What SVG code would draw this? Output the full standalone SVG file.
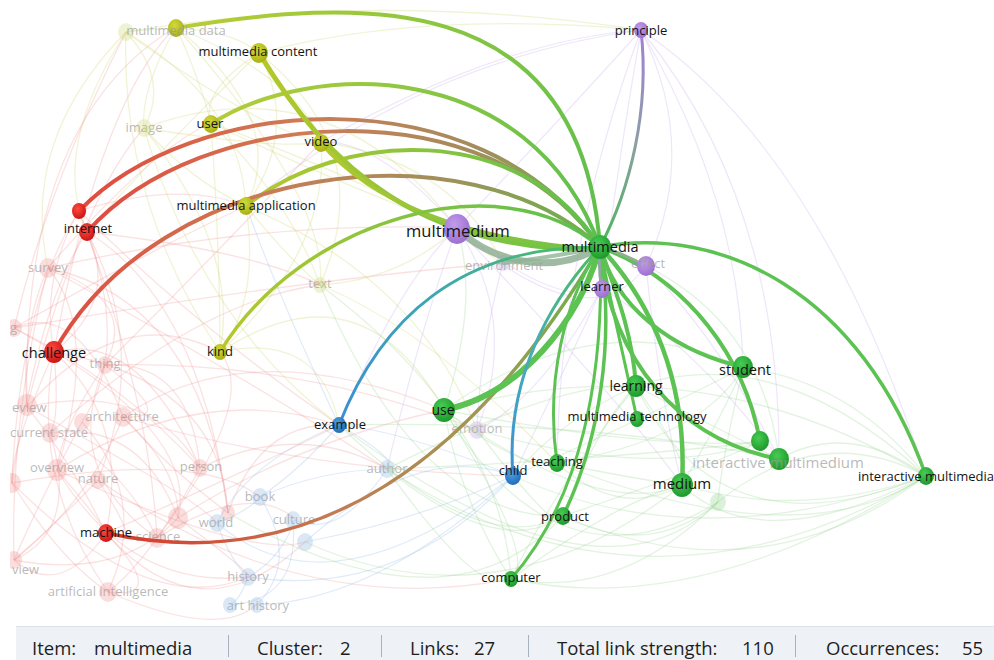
<svg xmlns="http://www.w3.org/2000/svg" width="994" height="660" viewBox="0 0 994 660">
<defs>
<style>
.lbl{font-family:"Open Sans","Noto Sans","DejaVu Sans",sans-serif;font-size:13px;fill:#141414;text-anchor:middle}
.fl{font-family:"Open Sans","Noto Sans","DejaVu Sans",sans-serif;font-size:13px;fill:#9a9a9a;fill-opacity:.7;text-anchor:middle}
.fls{font-family:"Open Sans","Noto Sans","DejaVu Sans",sans-serif;font-size:13px;fill:#9a9a9a;fill-opacity:.7}
.fr{fill:none;stroke:#ee8a8a;stroke-opacity:.25;stroke-width:1.3}
.fy{fill:none;stroke:#d2da80;stroke-opacity:.32;stroke-width:1.3}
.fp{fill:none;stroke:#cdb6ee;stroke-opacity:.35;stroke-width:1.2}
.fg{fill:none;stroke:#9fd898;stroke-opacity:.3;stroke-width:1.3}
.fb{fill:none;stroke:#9fc2ea;stroke-opacity:.32;stroke-width:1.2}
.e{fill:none;stroke-linecap:round}
.eg{stroke:#5cc252}
.nr{fill:#f4b4b4;fill-opacity:.45}
.ny{fill:#e6eab8;fill-opacity:.6}
.nb{fill:#bcd5ee;fill-opacity:.55}
.ng{fill:#c4e8c0;fill-opacity:.6}
.np{fill:#dccaf2;fill-opacity:.6}
.sb{font-family:"Open Sans","Noto Sans","DejaVu Sans",sans-serif;font-size:18.5px;fill:#1e1e1e}
.sep{stroke:#a9b2bc;stroke-width:1}
</style>
<radialGradient id="rg-green" cx=".4" cy=".35" r=".7"><stop offset="0" stop-color="#48cc54"/><stop offset="1" stop-color="#1b9629"/></radialGradient>
<radialGradient id="rg-yellow" cx=".4" cy=".35" r=".7"><stop offset="0" stop-color="#d3da3a"/><stop offset="1" stop-color="#a6ae12"/></radialGradient>
<radialGradient id="rg-red" cx=".4" cy=".35" r=".7"><stop offset="0" stop-color="#ff4a40"/><stop offset="1" stop-color="#c81212"/></radialGradient>
<radialGradient id="rg-purple" cx=".4" cy=".35" r=".7"><stop offset="0" stop-color="#c29cea"/><stop offset="1" stop-color="#9a6cd0"/></radialGradient>
<radialGradient id="rg-blue" cx=".4" cy=".35" r=".7"><stop offset="0" stop-color="#4ea0e4"/><stop offset="1" stop-color="#1c6ab6"/></radialGradient>
<linearGradient id="gE1" gradientUnits="userSpaceOnUse" x1="176" y1="28" x2="600" y2="247"><stop offset="0" stop-color="#b8cc34"/><stop offset="1" stop-color="#5cbf4e"/></linearGradient>
<linearGradient id="gE2" gradientUnits="userSpaceOnUse" x1="259" y1="53" x2="600" y2="250"><stop offset="0" stop-color="#b6c82a"/><stop offset="1" stop-color="#6ac24a"/></linearGradient>
<linearGradient id="gE3" gradientUnits="userSpaceOnUse" x1="321" y1="143" x2="600" y2="250"><stop offset="0" stop-color="#b4c82c"/><stop offset="1" stop-color="#6cc24a"/></linearGradient>
<linearGradient id="gE4" gradientUnits="userSpaceOnUse" x1="211" y1="124" x2="600" y2="247"><stop offset="0" stop-color="#b4cc38"/><stop offset="1" stop-color="#5cc04e"/></linearGradient>
<linearGradient id="gE5" gradientUnits="userSpaceOnUse" x1="79" y1="211" x2="600" y2="247"><stop offset="0" stop-color="#e04a3e"/><stop offset=".4" stop-color="#cf7a55"/><stop offset=".75" stop-color="#a48c5e"/><stop offset="1" stop-color="#70b04e"/></linearGradient>
<linearGradient id="gE6" gradientUnits="userSpaceOnUse" x1="87" y1="232" x2="600" y2="247"><stop offset="0" stop-color="#e04a3e"/><stop offset=".4" stop-color="#cf7a55"/><stop offset=".75" stop-color="#a48c5e"/><stop offset="1" stop-color="#70b04e"/></linearGradient>
<linearGradient id="gE7" gradientUnits="userSpaceOnUse" x1="54" y1="352" x2="600" y2="247"><stop offset="0" stop-color="#e04a3e"/><stop offset=".4" stop-color="#cc7a56"/><stop offset=".75" stop-color="#a0905a"/><stop offset="1" stop-color="#6cb24e"/></linearGradient>
<linearGradient id="gE8" gradientUnits="userSpaceOnUse" x1="246" y1="206" x2="600" y2="247"><stop offset="0" stop-color="#b4c830"/><stop offset="1" stop-color="#5cbf4e"/></linearGradient>
<linearGradient id="gE9" gradientUnits="userSpaceOnUse" x1="220" y1="352" x2="600" y2="247"><stop offset="0" stop-color="#b6c82c"/><stop offset="1" stop-color="#5cbf4e"/></linearGradient>
<linearGradient id="gE10" gradientUnits="userSpaceOnUse" x1="339" y1="425" x2="600" y2="247"><stop offset="0" stop-color="#3a8ed6"/><stop offset=".5" stop-color="#3ea8b0"/><stop offset="1" stop-color="#4cbe5c"/></linearGradient>
<linearGradient id="gE12" gradientUnits="userSpaceOnUse" x1="106" y1="533" x2="600" y2="247"><stop offset="0" stop-color="#d8382a"/><stop offset=".35" stop-color="#c47a52"/><stop offset=".7" stop-color="#9c9a52"/><stop offset="1" stop-color="#6cb24e"/></linearGradient>
<linearGradient id="gE13" gradientUnits="userSpaceOnUse" x1="513" y1="476" x2="600" y2="247"><stop offset="0" stop-color="#3a90d6"/><stop offset=".5" stop-color="#48acb8"/><stop offset="1" stop-color="#4cbe5c"/></linearGradient>
<linearGradient id="gE24" gradientUnits="userSpaceOnUse" x1="641" y1="30" x2="600" y2="247"><stop offset="0" stop-color="#a27ed8"/><stop offset=".5" stop-color="#8c9ea6"/><stop offset="1" stop-color="#4cb85a"/></linearGradient>
<clipPath id="area"><rect x="10" y="0" width="984" height="624"/></clipPath>
</defs>
<rect x="0" y="0" width="994" height="660" fill="#ffffff"/>
<g clip-path="url(#area)">
<g id="faded-nodes">
<g id="node-survey"><ellipse class="nr" cx="48" cy="268" rx="9" ry="10"/><text class="fl" x="48" y="272">survey</text></g>
<g id="node-g"><ellipse class="nr" cx="14" cy="328" rx="8" ry="9"/><text class="fls" x="10" y="332">g</text></g>
<g id="node-thing"><ellipse class="nr" cx="105" cy="365" rx="8" ry="9"/><text class="fl" x="105" y="368">thing</text></g>
<g id="node-review"><ellipse class="nr" cx="27" cy="405" rx="10" ry="11"/><text class="fls" x="12" y="412">eview</text></g>
<g id="node-architecture"><ellipse class="nr" cx="82" cy="422" rx="8" ry="9"/><ellipse class="nr" cx="123" cy="417" rx="9" ry="10"/><text class="fl" x="122" y="421">architecture</text></g>
<g id="node-current-state"><ellipse class="nr" cx="50" cy="433" rx="9" ry="10"/><text class="fl" x="49" y="437">current state</text></g>
<g id="node-overview"><ellipse class="nr" cx="57" cy="470" rx="10" ry="11"/><ellipse class="nr" cx="12" cy="483" rx="9" ry="10"/><text class="fl" x="57" y="472">overview</text></g>
<g id="node-nature"><ellipse class="nr" cx="98" cy="480" rx="8" ry="9"/><text class="fl" x="98" y="483">nature</text></g>
<g id="node-person"><ellipse class="nr" cx="200" cy="468" rx="8" ry="9"/><text class="fl" x="201" y="471">person</text></g>
<g id="node-science"><ellipse class="nr" cx="178" cy="518" rx="10" ry="11"/><ellipse class="nr" cx="228" cy="513" rx="7" ry="8"/><ellipse class="nr" cx="157" cy="538" rx="9" ry="10"/><text class="fl" x="158" y="541">science</text></g>
<g id="node-view"><ellipse class="nr" cx="14" cy="560" rx="8" ry="9"/><text class="fls" x="12" y="574">view</text></g>
<g id="node-artificial-intelligence"><ellipse class="nr" cx="108" cy="592" rx="9" ry="10"/><text class="fl" x="108" y="596">artificial intelligence</text></g>
<g id="node-multimedia-data-faded"><ellipse class="ny" cx="126" cy="32" rx="8" ry="9"/></g>
<g id="node-image"><ellipse class="ny" cx="144" cy="128" rx="8" ry="9"/><text class="fl" x="144" y="132">image</text></g>
<g id="node-text"><ellipse class="ny" cx="320" cy="285" rx="7" ry="8"/><text class="fl" x="320" y="288">text</text></g>
<g id="node-emotion"><ellipse class="np" cx="477" cy="430" rx="8" ry="9"/><text class="fl" x="477" y="433">emotion</text></g>
<g id="node-environment"><ellipse class="np" cx="503" cy="263" rx="7" ry="8"/><text class="fl" x="504" y="270">environment</text></g>
<g id="node-book"><ellipse class="nb" cx="260" cy="497" rx="8" ry="9"/><text class="fl" x="260" y="501">book</text></g>
<g id="node-world"><ellipse class="nb" cx="217" cy="523" rx="8" ry="9"/><text class="fl" x="216" y="527">world</text></g>
<g id="node-culture"><ellipse class="nb" cx="293" cy="520" rx="8" ry="9"/><ellipse class="nb" cx="305" cy="542" rx="8" ry="9"/><text class="fl" x="294" y="524">culture</text></g>
<g id="node-history"><ellipse class="nb" cx="248" cy="577" rx="8" ry="9"/><text class="fl" x="248" y="581">history</text></g>
<g id="node-art-history"><ellipse class="nb" cx="230" cy="605" rx="7" ry="8"/><ellipse class="nb" cx="257" cy="605" rx="7" ry="8"/><text class="fl" x="258" y="610">art history</text></g>
<g id="node-author"><ellipse class="nb" cx="387" cy="469" rx="8" ry="9"/><text class="fl" x="387" y="473">author</text></g>
<g id="node-green-faded"><ellipse class="ng" cx="718" cy="502" rx="8" ry="9"/></g>
</g>
<g id="connectors">
<g id="background-links">
<path class="fr" d="M79,211 Q40,280 54,352"/>
<path class="fr" d="M87,232 Q120,300 54,352"/>
<path class="fr" d="M48,268 Q20,330 27,407"/>
<path class="fr" d="M54,352 Q60,420 50,433"/>
<path class="fr" d="M54,352 Q130,420 106,533"/>
<path class="fr" d="M27,407 Q70,460 106,533"/>
<path class="fr" d="M50,433 Q120,460 157,538"/>
<path class="fr" d="M57,470 Q100,520 106,533"/>
<path class="fr" d="M123,417 Q180,470 178,518"/>
<path class="fr" d="M98,480 Q150,560 106,533"/>
<path class="fr" d="M14,328 Q80,300 123,417"/>
<path class="fr" d="M54,352 Q140,330 200,468"/>
<path class="fr" d="M106,533 Q170,600 108,592"/>
<path class="fr" d="M12,483 Q60,560 108,592"/>
<path class="fr" d="M14,560 Q60,520 98,480"/>
<path class="fr" d="M48,268 Q140,300 105,365"/>
<path class="fr" d="M87,232 Q200,300 228,513"/>
<path class="fr" d="M79,211 Q150,400 157,538"/>
<path class="fr" d="M54,352 Q220,380 228,513"/>
<path class="fr" d="M27,407 Q150,380 200,468"/>
<path class="fr" d="M14,328 Q200,430 178,518"/>
<path class="fr" d="M106,533 Q250,470 339,425"/>
<path class="fr" d="M57,470 Q200,380 339,425"/>
<path class="fr" d="M123,417 Q250,330 444,410"/>
<path class="fr" d="M50,433 Q200,300 320,285"/>
<path class="fr" d="M12,483 Q150,620 248,577"/>
<path class="fr" d="M108,592 Q220,640 257,604"/>
<path class="fr" d="M200,468 Q300,420 387,469"/>
<path class="fr" d="M157,538 Q250,480 295,519"/>
<path class="fr" d="M48,268 Q150,150 211,123"/>
<path class="fr" d="M14,328 Q50,180 126,32"/>
<path class="fr" d="M54,352 Q100,100 176,27"/>
<path class="fr" d="M27,407 Q80,200 144,128"/>
<path class="fr" d="M79,211 Q180,180 246,206"/>
<path class="fr" d="M12,483 Q40,300 87,232"/>
<path class="fr" d="M14,560 Q10,420 48,268"/>
<path class="fr" d="M108,592 Q30,480 54,352"/>
<path class="fr" d="M157,538 Q260,400 220,352"/>
<path class="fr" d="M178,518 Q300,440 444,410"/>
<path class="fr" d="M200,468 Q190,360 105,365"/>
<path class="fr" d="M228,513 Q260,420 339,425"/>
<path class="fr" d="M105,365 Q180,420 123,417"/>
<path class="fr" d="M50,433 Q80,530 14,560"/>
<path class="fr" d="M82,422 Q150,500 108,592"/>
<path class="fr" d="M57,470 Q250,560 305,542"/>
<path class="fr" d="M98,480 Q300,620 511,579"/>
<path class="fr" d="M27,407 Q20,120 176,27"/>
<path class="fr" d="M48,268 Q260,220 457,228"/>
<path class="fr" d="M14,328 Q300,280 503,263"/>
<path class="fr" d="M105,365 Q300,360 477,430"/>
<path class="fr" d="M48,268 Q100,330 57,470"/>
<path class="fr" d="M79,211 Q20,300 12,483"/>
<path class="fr" d="M87,232 Q150,350 98,480"/>
<path class="fr" d="M105,365 Q60,430 57,470"/>
<path class="fr" d="M123,417 Q90,500 14,560"/>
<path class="fr" d="M200,468 Q150,560 108,592"/>
<path class="fr" d="M178,518 Q120,580 14,560"/>
<path class="fr" d="M228,513 Q170,470 123,417"/>
<path class="fr" d="M54,352 Q10,450 12,483"/>
<path class="fr" d="M50,433 Q140,420 178,518"/>
<path class="fr" d="M27,407 Q120,300 220,352"/>
<path class="fr" d="M87,232 Q250,250 320,285"/>
<path class="fr" d="M79,211 Q200,330 339,425"/>
<path class="fr" d="M57,470 Q130,590 248,577"/>
<path class="fr" d="M106,533 Q200,640 305,542"/>
<path class="fr" d="M14,328 Q150,250 246,206"/>
<path class="fr" d="M48,268 Q250,380 387,469"/>
<path class="fr" d="M105,365 Q220,250 321,142"/>
<path class="fr" d="M123,417 Q300,470 513,476"/>
<path class="fr" d="M12,483 Q200,450 260,497"/>
<path class="fr" d="M157,538 Q60,470 105,365"/>
<path class="fr" d="M82,422 Q40,500 14,560"/>
<path class="fr" d="M82,422 Q130,350 87,232"/>
<path class="fr" d="M14,328 Q120,380 200,468"/>
<path class="fr" d="M48,268 Q200,300 228,513"/>
<path class="fr" d="M106,533 Q60,600 14,560"/>
<path class="fr" d="M178,518 Q260,580 248,577"/>
<path class="fr" d="M27,407 Q200,500 217,523"/>
<path class="fy" d="M126,32 Q170,80 144,128"/>
<path class="fy" d="M176,27 Q200,80 211,123"/>
<path class="fy" d="M126,32 Q220,20 259,53"/>
<path class="fy" d="M144,128 Q190,180 246,206"/>
<path class="fy" d="M259,53 Q300,130 246,206"/>
<path class="fy" d="M211,123 Q290,200 320,285"/>
<path class="fy" d="M144,128 Q240,250 220,352"/>
<path class="fy" d="M246,206 Q290,260 320,285"/>
<path class="fy" d="M126,32 Q50,150 87,232"/>
<path class="fy" d="M176,27 Q300,80 321,142"/>
<path class="fy" d="M320,285 Q400,280 457,228"/>
<path class="fy" d="M220,352 Q320,330 339,425"/>
<path class="fy" d="M259,53 Q420,10 641,30"/>
<path class="fy" d="M126,32 Q380,-10 641,30"/>
<path class="fy" d="M211,123 Q420,200 503,265"/>
<path class="fy" d="M126,32 Q260,130 321,142"/>
<path class="fy" d="M144,128 Q330,60 457,228"/>
<path class="fy" d="M220,352 Q360,260 444,410"/>
<path class="fy" d="M320,285 Q430,330 557,463"/>
<path class="fy" d="M246,206 Q420,280 477,430"/>
<path class="fy" d="M321,142 Q450,160 503,263"/>
<path class="fy" d="M211,123 Q220,250 220,352"/>
<path class="fy" d="M176,27 Q140,90 144,128"/>
<path class="fy" d="M259,53 Q200,90 211,123"/>
<path class="fy" d="M126,32 Q240,100 246,206"/>
<path class="fy" d="M176,27 Q290,120 246,206"/>
<path class="fy" d="M259,53 Q380,150 320,285"/>
<path class="fy" d="M144,128 Q280,150 321,142"/>
<path class="fy" d="M211,123 Q330,180 457,228"/>
<path class="fy" d="M321,142 Q330,250 220,352"/>
<path class="fy" d="M126,32 Q120,200 220,352"/>
<path class="fy" d="M176,27 Q330,200 320,285"/>
<path class="fy" d="M144,128 Q200,320 339,425"/>
<path class="fy" d="M246,206 Q260,300 220,352"/>
<path class="fy" d="M126,32 Q20,140 48,268"/>
<path class="fy" d="M259,53 Q160,150 87,232"/>
<path class="fp" d="M641,30 Q560,120 457,228"/>
<path class="fp" d="M641,30 Q620,150 602,288"/>
<path class="fp" d="M641,30 Q700,150 646,266"/>
<path class="fp" d="M641,30 Q740,200 743,368"/>
<path class="fp" d="M457,228 Q520,320 477,430"/>
<path class="fp" d="M457,228 Q560,310 602,288"/>
<path class="fp" d="M503,265 Q600,330 646,266"/>
<path class="fp" d="M477,430 Q540,400 602,288"/>
<path class="fp" d="M641,30 Q780,200 779,459"/>
<path class="fp" d="M641,30 Q500,40 321,142"/>
<path class="fp" d="M641,30 Q420,60 246,206"/>
<path class="fp" d="M457,228 Q420,330 387,469"/>
<path class="fp" d="M602,288 Q560,380 513,476"/>
<path class="fp" d="M646,266 Q720,340 779,459"/>
<path class="fp" d="M457,228 Q400,280 339,425"/>
<path class="fp" d="M503,263 Q480,350 477,430"/>
<path class="fp" d="M602,288 Q700,350 779,459"/>
<path class="fp" d="M457,228 Q620,400 682,485"/>
<path class="fp" d="M641,30 Q560,250 557,463"/>
<path class="fp" d="M646,266 Q660,400 682,485"/>
<path class="fp" d="M641,30 Q820,150 926,476"/>
<path class="fp" d="M457,228 Q380,140 321,142"/>
<path class="fg" d="M444,410 Q520,470 557,463"/>
<path class="fg" d="M557,463 Q620,520 682,485"/>
<path class="fg" d="M636,386 Q700,420 779,459"/>
<path class="fg" d="M563,516 Q650,560 718,502"/>
<path class="fg" d="M511,579 Q620,600 718,502"/>
<path class="fg" d="M682,485 Q800,520 926,476"/>
<path class="fg" d="M718,502 Q820,420 926,476"/>
<path class="fg" d="M779,459 Q850,420 926,476"/>
<path class="fg" d="M743,368 Q850,380 926,476"/>
<path class="fg" d="M444,410 Q600,520 682,485"/>
<path class="fg" d="M387,469 Q500,560 563,516"/>
<path class="fg" d="M444,410 Q540,560 511,579"/>
<path class="fg" d="M339,425 Q480,560 563,516"/>
<path class="fg" d="M636,386 Q560,420 513,476"/>
<path class="fg" d="M557,463 Q700,440 743,368"/>
<path class="fg" d="M511,579 Q700,620 926,476"/>
<path class="fg" d="M444,410 Q600,300 743,368"/>
<path class="fg" d="M477,430 Q650,480 760,442"/>
<path class="fg" d="M387,469 Q560,380 636,386"/>
<path class="fg" d="M563,516 Q760,600 926,476"/>
<path class="fg" d="M444,410 Q700,340 926,476"/>
<path class="fg" d="M636,386 Q780,340 926,476"/>
<path class="fg" d="M682,485 Q720,420 743,368"/>
<path class="fg" d="M511,579 Q560,480 636,386"/>
<path class="fg" d="M557,463 Q640,480 682,485"/>
<path class="fg" d="M339,425 Q600,620 718,502"/>
<path class="fg" d="M387,469 Q650,640 926,476"/>
<path class="fg" d="M682,485 Q760,560 926,476"/>
<path class="fg" d="M563,516 Q600,420 636,386"/>
<path class="fg" d="M600,247 Q760,300 779,459"/>
<path class="fg" d="M444,410 Q480,300 457,228"/>
<path class="fg" d="M320,285 Q500,420 511,579"/>
<path class="fg" d="M444,410 Q560,600 718,502"/>
<path class="fg" d="M513,476 Q700,560 926,476"/>
<path class="fg" d="M557,463 Q800,560 926,476"/>
<path class="fg" d="M387,469 Q600,460 760,442"/>
<path class="fg" d="M339,425 Q600,420 779,459"/>
<path class="fg" d="M444,410 Q650,450 760,442"/>
<path class="fg" d="M477,430 Q560,540 563,516"/>
<path class="fg" d="M636,386 Q700,480 682,485"/>
<path class="fg" d="M511,579 Q620,500 682,485"/>
<path class="fg" d="M743,368 Q720,470 718,502"/>
<path class="fg" d="M563,516 Q700,470 760,442"/>
<path class="fg" d="M387,469 Q480,600 511,579"/>
<path class="fg" d="M444,410 Q460,500 511,579"/>
<path class="fg" d="M320,285 Q420,520 563,516"/>
<path class="fg" d="M636,386 Q720,560 926,476"/>
<path class="fg" d="M513,476 Q620,430 743,368"/>
<path class="fg" d="M305,542 Q500,630 682,485"/>
<path class="fg" d="M228,513 Q450,640 563,516"/>
<path class="fb" d="M339,425 Q300,470 260,497"/>
<path class="fb" d="M260,497 Q250,510 217,523"/>
<path class="fb" d="M295,520 Q280,560 248,577"/>
<path class="fb" d="M248,577 Q240,600 230,605"/>
<path class="fb" d="M217,523 Q230,560 248,577"/>
<path class="fb" d="M339,425 Q400,460 387,469"/>
<path class="fb" d="M513,476 Q420,520 305,542"/>
<path class="fb" d="M387,469 Q340,540 295,520"/>
<path class="fb" d="M260,497 Q300,560 257,605"/>
<path class="fb" d="M339,425 Q250,460 217,523"/>
<path class="fb" d="M513,476 Q400,430 339,425"/>
<path class="fb" d="M513,476 Q380,600 257,605"/>
<path class="fb" d="M339,425 Q280,300 246,206"/>
<path class="fb" d="M305,542 Q420,440 513,476"/>
<path class="fb" d="M260,497 Q320,470 387,469"/>
<path class="fb" d="M217,523 Q330,620 513,476"/>
<path class="fb" d="M248,577 Q400,600 513,476"/>
<path class="fb" d="M293,520 Q300,600 230,605"/>
</g>
<g id="highlight-links">
<path class="e" stroke="url(#gE1)" stroke-width="4" d="M176,28 C350,0 580,-20 600,247"/>
<path class="e" stroke="url(#gE4)" stroke-width="4" d="M211,124 C310,60 530,55 600,247"/>
<path class="e" stroke="url(#gE5)" stroke-width="4" d="M79,211 C190,95 480,70 600,247"/>
<path class="e" stroke="url(#gE6)" stroke-width="4" d="M87,232 C200,105 490,85 600,247"/>
<path class="e" stroke="url(#gE8)" stroke-width="4" d="M246,206 C340,130 520,120 600,247"/>
<path class="e" stroke="url(#gE7)" stroke-width="4" d="M54,352 C160,160 470,125 600,247"/>
<path class="e" stroke="url(#gE2)" stroke-width="5" d="M259,53 C330,170 420,250 600,250"/>
<path class="e" stroke="url(#gE3)" stroke-width="4" d="M321,143 C370,200 460,240 600,250"/>
<path class="e" stroke="url(#gE9)" stroke-width="3.5" d="M220,352 C300,220 500,160 600,247"/>
<path class="e" stroke="#8fae94" stroke-opacity=".85" stroke-width="7" d="M457,229 C500,268 560,272 600,247"/>
<path class="e" stroke="#8fb496" stroke-opacity=".8" stroke-width="4" d="M503,263 Q560,256 600,247"/>
<path class="e" stroke="url(#gE10)" stroke-width="3" d="M339,425 C380,320 460,245 600,247"/>
<path class="e" stroke="url(#gE12)" stroke-width="3.5" d="M106,533 C320,580 480,450 600,247"/>
<path class="e eg" stroke-width="6" d="M444,410 C520,395 580,320 600,247"/>
<path class="e" stroke="url(#gE13)" stroke-width="3" d="M513,476 C505,380 550,300 600,247"/>
<path class="e eg" stroke-width="3" d="M557,463 C545,380 565,300 600,247"/>
<path class="e eg" stroke-width="3" d="M511,579 C580,500 605,380 600,247"/>
<path class="e eg" stroke-width="3.5" d="M563,516 C600,440 615,340 600,247"/>
<path class="e eg" stroke-width="4" d="M636,386 C632,330 615,290 600,247"/>
<path class="e eg" stroke-width="3" d="M637,419 C620,340 608,290 600,247"/>
<path class="e eg" stroke-width="4.5" d="M682,485 C688,380 650,300 600,247"/>
<path class="e eg" stroke-width="4" d="M743,367 C690,355 620,320 600,247"/>
<path class="e eg" stroke-width="4" d="M600,247 C690,280 745,360 760,441"/>
<path class="e eg" stroke-width="4" d="M600,247 C610,360 680,440 779,459"/>
<path class="e eg" stroke-width="3.5" d="M600,247 C720,225 860,290 926,476"/>
<path class="e" stroke="url(#gE24)" stroke-width="3" d="M641,30 C650,110 630,190 600,247"/>
<path class="e" stroke="#8eb08e" stroke-width="3" d="M646,266 Q620,252 600,247"/>
<path class="e" stroke="#8ea8a0" stroke-width="3" d="M602,289 Q598,270 600,247"/>
</g>
</g>
<g id="nodes">
<g id="node-multimedia-data"><ellipse fill="url(#rg-yellow)" cx="176" cy="28" rx="8" ry="9"/><text class="fl" x="176" y="35">multimedia data</text></g>
<g id="node-multimedia-content"><ellipse fill="url(#rg-yellow)" cx="259" cy="53" rx="9" ry="10"/><text class="lbl" x="258" y="56">multimedia content</text></g>
<g id="node-user"><ellipse fill="url(#rg-yellow)" cx="211" cy="124" rx="8" ry="9"/><text class="lbl" x="210" y="128">user</text></g>
<g id="node-video"><ellipse fill="url(#rg-yellow)" cx="321" cy="143" rx="8" ry="9"/><text class="lbl" x="321" y="146">video</text></g>
<g id="node-multimedia-application"><ellipse fill="url(#rg-yellow)" cx="246" cy="206" rx="8" ry="9"/><text class="lbl" x="246" y="210">multimedia application</text></g>
<g id="node-kind"><ellipse fill="url(#rg-yellow)" cx="220" cy="352" rx="7" ry="8"/><text class="lbl" x="220" y="356">kind</text></g>
<g id="node-internet"><ellipse fill="url(#rg-red)" cx="79" cy="211" rx="7" ry="8"/><ellipse fill="url(#rg-red)" cx="87" cy="232" rx="8" ry="9"/><text class="lbl" x="88" y="233">internet</text></g>
<g id="node-challenge"><ellipse fill="url(#rg-red)" cx="54" cy="352" rx="10" ry="11"/><text class="lbl" style="font-size:14.5px" x="54" y="358">challenge</text></g>
<g id="node-machine"><ellipse fill="url(#rg-red)" cx="106" cy="533" rx="8" ry="9"/><text class="lbl" x="106" y="537">machine</text></g>
<g id="node-example"><ellipse fill="url(#rg-blue)" cx="339" cy="425" rx="7" ry="8"/><text class="lbl" x="340" y="429">example</text></g>
<g id="node-child"><ellipse fill="url(#rg-blue)" cx="513" cy="476" rx="8" ry="9"/><text class="lbl" x="513" y="475">child</text></g>
<g id="node-multimedium"><ellipse fill="url(#rg-purple)" cx="457" cy="229" rx="13" ry="15"/><text class="lbl" style="font-size:16.5px" x="458" y="237">multimedium</text></g>
<g id="node-effect"><ellipse fill="url(#rg-purple)" cx="646" cy="266" rx="9" ry="10"/><text class="fl" x="648" y="268">effect</text></g>
<g id="node-principle"><ellipse fill="url(#rg-purple)" cx="641" cy="30" rx="7" ry="8"/><text class="lbl" x="641" y="35">principle</text></g>
<g id="node-use"><ellipse fill="url(#rg-green)" cx="444" cy="410" rx="11" ry="12"/><text class="lbl" style="font-size:14px" x="443" y="415">use</text></g>
<g id="node-teaching"><ellipse fill="url(#rg-green)" cx="557" cy="463" rx="8" ry="9"/><text class="lbl" x="557" y="466">teaching</text></g>
<g id="node-product"><ellipse fill="url(#rg-green)" cx="563" cy="516" rx="8" ry="9"/><text class="lbl" x="565" y="521">product</text></g>
<g id="node-computer"><ellipse fill="url(#rg-green)" cx="511" cy="579" rx="7" ry="8"/><text class="lbl" x="511" y="582">computer</text></g>
<g id="node-learning"><ellipse fill="url(#rg-green)" cx="636" cy="386" rx="10" ry="11"/><text class="lbl" style="font-size:14px" x="636" y="391">learning</text></g>
<g id="node-multimedia-technology"><ellipse fill="url(#rg-green)" cx="637" cy="419" rx="7" ry="8"/><text class="lbl" x="637" y="421">multimedia technology</text></g>
<g id="node-student"><ellipse fill="url(#rg-green)" cx="743" cy="367" rx="10" ry="11"/><text class="lbl" style="font-size:14.5px" x="745" y="375">student</text></g>
<g id="node-interactive-multimedium"><ellipse fill="url(#rg-green)" cx="760" cy="441" rx="9" ry="10"/><ellipse fill="url(#rg-green)" cx="779" cy="459" rx="10" ry="11"/><text class="fl" style="font-size:15px" x="778" y="468">interactive multimedium</text></g>
<g id="node-medium"><ellipse fill="url(#rg-green)" cx="682" cy="485" rx="11" ry="12"/><text class="lbl" style="font-size:15px" x="682" y="489">medium</text></g>
<g id="node-interactive-multimedia"><ellipse fill="url(#rg-green)" cx="926" cy="476" rx="8" ry="9"/><text class="lbl" x="926" y="481">interactive multimedia</text></g>
<g id="node-learner"><ellipse fill="url(#rg-purple)" cx="602" cy="289" rx="8" ry="9"/><text class="lbl" x="602" y="291">learner</text></g>
<g id="node-multimedia"><ellipse fill="url(#rg-green)" cx="600" cy="247" rx="11" ry="12"/><text class="lbl" style="font-size:14.5px" x="600" y="252">multimedia</text></g>
</g>
</g>
<g id="status-bar">
<rect x="16" y="626" width="978" height="34" fill="#eef2f7"/>
<line x1="16" y1="626.5" x2="994" y2="626.5" stroke="#dde3ea"/>
<text class="sb" x="32" y="655">Item:</text>
<text class="sb" x="94" y="655">multimedia</text>
<line class="sep" x1="228.5" y1="635" x2="228.5" y2="657"/>
<text class="sb" x="257" y="655">Cluster:</text>
<text class="sb" x="340" y="655">2</text>
<line class="sep" x1="381.5" y1="635" x2="381.5" y2="657"/>
<text class="sb" x="410" y="655">Links:</text>
<text class="sb" x="474" y="655">27</text>
<line class="sep" x1="528.5" y1="635" x2="528.5" y2="657"/>
<text class="sb" x="557" y="655">Total link strength:</text>
<text class="sb" x="742" y="655">110</text>
<line class="sep" x1="795.5" y1="635" x2="795.5" y2="657"/>
<text class="sb" x="826" y="655">Occurrences:</text>
<text class="sb" x="962" y="655">55</text>
</g>
</svg>
